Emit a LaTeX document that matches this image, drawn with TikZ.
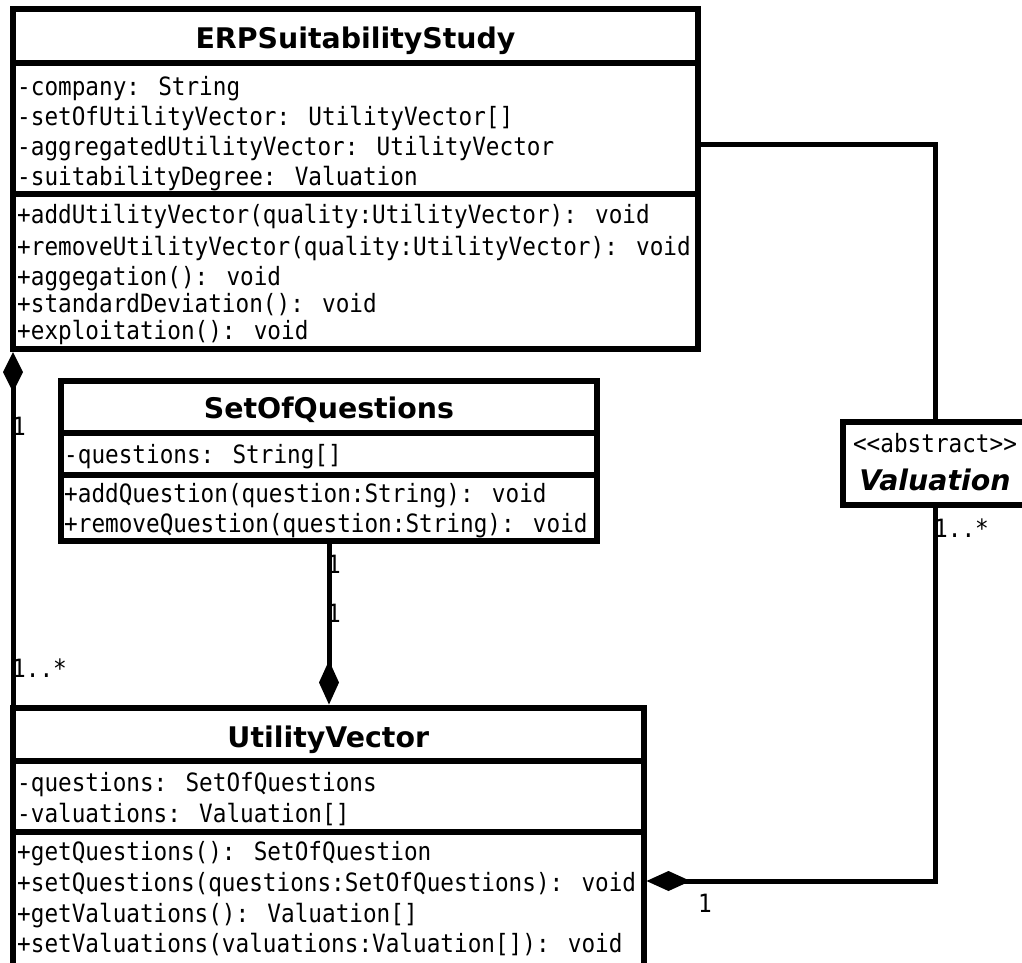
\documentclass[tikz,border=0pt]{standalone}
\usepackage{fontspec}
\setmainfont{DejaVu Sans}
\newfontfamily\membfont[FakeStretch=0.9]{DejaVu Sans Mono}
\usepackage{tikz}
\usetikzlibrary{positioning,arrows.meta}

\tikzset{
  classbox/.style={draw, line width=6pt, outer sep=0pt, inner sep=0pt},
  sepline/.style={line width=6pt},
  classname/.style={font=\bfseries\fontsize{28.4}{34}\selectfont, inner sep=0pt, anchor=base},
  member/.style={font=\membfont\fontsize{25.2}{30}\selectfont, inner sep=0pt, anchor=base west},
  assoc/.style={line width=5pt},
  compstart/.style={{Diamond[length=40pt,width=20pt]}-, shorten <=3pt},
  compend/.style={-{Diamond[length=44pt,width=20pt]}, shorten >=3pt},
}

\begin{document}
\begin{tikzpicture}[x=1pt,y=-1pt]
            \useasboundingbox (0,0) rectangle (1022,962);

            % ERPSuitabilityStudy
            \node[classbox, minimum width=685pt, minimum height=340pt] (erp) at (355.5,179) {};
            \draw[sepline] (13,63) -- (698,63);
            \draw[sepline] (13,194) -- (698,194);
            \node[classname] (erpname) at (355.5,48) {ERPSuitabilityStudy};
            \foreach \yy/\txt [count=\i] in {95/-company: String,
                125/-setOfUtilityVector: UtilityVector[],
                155/-aggregatedUtilityVector: UtilityVector,
                185/-suitabilityDegree: Valuation}
              \node[member] (erpattr\i) at (17,\yy) {\txt};
            \foreach \yy/\txt [count=\i] in {223/+addUtilityVector(quality:UtilityVector): void,
                255/+removeUtilityVector(quality:UtilityVector): void,
                285/+aggegation(): void,
                312/+standardDeviation(): void,
                339/+exploitation(): void}
              \node[member] (erpop\i) at (17,\yy) {\txt};

            % SetOfQuestions
            \node[classbox, minimum width=536pt, minimum height=160pt] (soq) at (329,461) {};
            \draw[sepline] (61,433) -- (597,433);
            \draw[sepline] (61,474.5) -- (597,474.5);
            \node[classname] (soqname) at (329,418) {SetOfQuestions};
            \node[member] (soqattr) at (64,463) {-questions: String[]};
            \node[member] (soqop1) at (64,502) {+addQuestion(question:String): void};
            \node[member] (soqop2) at (64,532) {+removeQuestion(question:String): void};

            % UtilityVector
            \node[classbox, minimum width=630.5pt, minimum height=258.5pt] (uv) at (328.25,836.75) {};
            \draw[sepline] (13,760.5) -- (643.5,760.5);
            \draw[sepline] (13,831.5) -- (643.5,831.5);
            \node[classname] (uvname) at (328.25,747) {UtilityVector};
            \foreach \yy/\txt [count=\i] in {791/-questions: SetOfQuestions,
                822/-valuations: Valuation[]}
              \node[member] (uvattr\i) at (17,\yy) {\txt};
            \foreach \yy/\txt [count=\i] in {860/+getQuestions(): SetOfQuestion,
                891/+setQuestions(questions:SetOfQuestions): void,
                922/+getValuations(): Valuation[],
                952/+setValuations(valuations:Valuation[]): void}
              \node[member] (uvop\i) at (17,\yy) {\txt};

            % Valuation
            \node[classbox, minimum width=184pt, minimum height=83pt] (val) at (935,463.5) {};
            \node[member, anchor=base] (valtag) at (935,452) {<\kern0pt<abstract>\kern0pt>};
            \node[classname] (valname) at (935,490) {\itshape Valuation};

            % associations
            \draw[assoc, compstart] (erp.south west) -- (uv.north west);
            \draw[assoc, compend] (soq.south) -- (soq.south |- uv.north);
            \draw[assoc] ([yshift=35pt]erp.east) -| (val.north);
            \draw[assoc, compend] (val.south) |- ([yshift=-44.25pt]uv.east);

            % multiplicities
            \node[member] (m1) at (12,435) {1};
            \node[member] (m2) at (12,677) {1..*};
            \node[member] (m3) at (327,573) {1};
            \node[member] (m4) at (327,622) {1};
            \node[member] (m5) at (934,537) {1..*};
            \node[member, anchor=base] (m6) at (705,912) {1};
        \end{tikzpicture}
\end{document}
